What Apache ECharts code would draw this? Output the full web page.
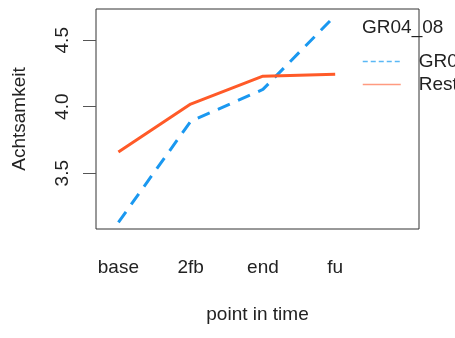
<!DOCTYPE html>
<html><head><meta charset="utf-8">
<script src="https://cdn.jsdelivr.net/npm/echarts@6/dist/echarts.min.js"></script>
<style>html,body{margin:0;padding:0;background:#fff}#c{width:455px;height:338px}</style>
</head><body><div id="c"></div>
<script>
const categories = ['base', '2fb', 'end', 'fu'];
const seriesNames = ['GR04_08', 'Rest'];
const gr0408 = [3.13, 3.89, 4.13, 4.685];
const rest = [3.66, 4.02, 4.23, 4.245];
const yTicks = [3.5, 4.0, 4.5];
const legendTitle = 'GR04_08';
const xTitle = 'point in time';
const yTitle = 'Achtsamkeit';

const FONT = '"Liberation Sans", Arial, sans-serif';
const BLUE = '#1A98F0';
const ORANGE = '#FF5A28';

const chart = echarts.init(document.getElementById('c'), null, {renderer: 'canvas'});
chart.setOption({
  animation: false,
  backgroundColor: '#fff',
  title: {
    text: legendTitle, left: 362, top: 18, padding: 0,
    textStyle: {fontFamily: FONT, fontSize: 19, fontWeight: 'normal', color: '#222'}
  },
  legend: {
    orient: 'vertical', left: 362, top: 52, padding: 0,
    itemWidth: 38, itemHeight: 20, itemGap: 4,
    textStyle: {fontFamily: FONT, fontSize: 19, color: '#222', padding: [0, 0, 0, 13]},
    data: [
      {name: seriesNames[0], itemStyle: {opacity: 0}, lineStyle: {width: 1.5, type: [5, 3], color: '#5AB8F5'}},
      {name: seriesNames[1], itemStyle: {opacity: 0}, lineStyle: {width: 1.5, color: '#FF9A80'}}
    ]
  },
  grid: {left: 96, right: 36, top: 9, bottom: 109, show: true, borderColor: '#333', borderWidth: 1, containLabel: false},
  xAxis: {
    type: 'value', min: 0.69, max: 5.16,
    axisLine: {show: false}, axisTick: {show: false}, splitLine: {show: false},
    axisLabel: {
      customValues: categories.map((c, i) => i + 1),
      formatter: v => categories[Math.round(v) - 1] || '',
      margin: 29, fontFamily: FONT, fontSize: 19, color: '#222'
    },
    name: xTitle, nameLocation: 'middle', nameGap: 76,
    nameTextStyle: {fontFamily: FONT, fontSize: 19, color: '#222'}
  },
  yAxis: {
    type: 'value', min: 3.08, max: 4.735,
    axisLine: {show: false}, splitLine: {show: false},
    axisTick: {show: true, customValues: yTicks, inside: false, length: 13, lineStyle: {color: '#555'}},
    axisLabel: {
      customValues: yTicks, rotate: 90, margin: 24,
      formatter: v => v.toFixed(1),
      fontFamily: FONT, fontSize: 19, color: '#222'
    },
    name: yTitle, nameLocation: 'middle', nameGap: 67,
    nameTextStyle: {fontFamily: FONT, fontSize: 19, color: '#222'}
  },
  series: [
    {name: seriesNames[0], type: 'line', symbol: 'none', data: gr0408.map((v, i) => [i + 1, v]),
     lineStyle: {color: BLUE, width: 3, type: [13, 9]}, itemStyle: {color: BLUE}},
    {name: seriesNames[1], type: 'line', symbol: 'none', data: rest.map((v, i) => [i + 1, v]),
     lineStyle: {color: ORANGE, width: 3}, itemStyle: {color: ORANGE}}
  ]
});
</script></body></html>
